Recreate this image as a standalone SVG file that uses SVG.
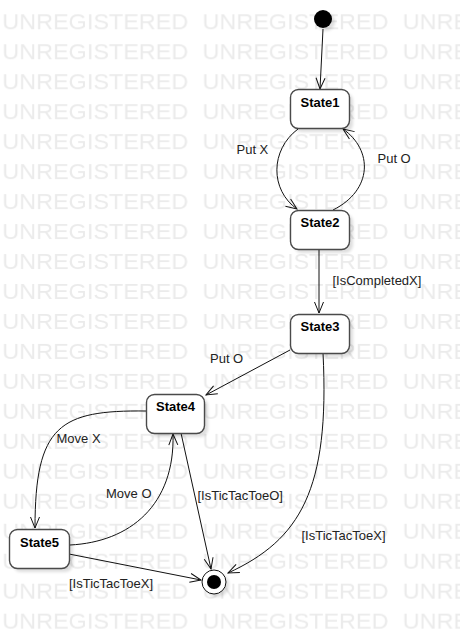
<svg xmlns="http://www.w3.org/2000/svg" width="460" height="635" viewBox="0 0 460 635">
  <style>
    .wm { font-family: "Liberation Sans", Arial, sans-serif; font-size: 22px; fill: #ebebeb; }
    .node rect.box { fill: #ffffff; stroke: #4a4a4a; stroke-width: 1.4; }
    .shadow { fill: #000000; opacity: 0.13; filter: url(#blur); }
    .name { font-family: "Liberation Sans", Arial, sans-serif; font-size: 13px; font-weight: bold; fill: #000; text-anchor: middle; }
    .lbl { font-family: "Liberation Sans", Arial, sans-serif; font-size: 13px; fill: #222; }
    .edge { fill: none; stroke: #111; stroke-width: 1; marker-end: url(#arrow); }
  </style>
  <defs>
    <filter id="blur" x="-20%" y="-20%" width="140%" height="140%">
      <feGaussianBlur stdDeviation="1.5"/>
    </filter>
    <marker id="arrow" markerUnits="userSpaceOnUse" viewBox="-12 -6 13 12" markerWidth="13" markerHeight="12" refX="0" refY="0" orient="auto">
      <path d="M-11,-4.5 L0,0 L-11,4.5" fill="none" stroke="#111" stroke-width="1"/>
    </marker>
    <pattern id="wmp" patternUnits="userSpaceOnUse" x="2.3" y="-0.7" width="200.2" height="29.97">
      <text class="wm" x="0" y="29.97" textLength="186" lengthAdjust="spacingAndGlyphs">UNREGISTERED</text>
    </pattern>
  </defs>

  <rect x="0" y="0" width="460" height="635" fill="#ffffff"/>
  <rect x="0" y="0" width="460" height="635" fill="url(#wmp)"/>

  <g id="connectors">
    <path class="edge" d="M323,29 L320,89"/>
    <path class="edge" d="M298,129 C270,150 270,190 297,209"/>
    <path class="edge" d="M333,210 C373,190 373,150 343,129"/>
    <path class="edge" d="M319,249 L319,313"/>
    <path class="edge" d="M290,350 L206,395"/>
    <path class="edge" d="M323,353 C330,490 300,540 228,573"/>
    <path class="edge" d="M146,411 C60,410 35,425 35,528"/>
    <path class="edge" d="M70,545 C130,542 175,505 173,434"/>
    <path class="edge" d="M181,433 L211,569"/>
    <path class="edge" d="M69,554 L201,580"/>
    <text class="lbl" x="236.5" y="154">Put X</text>
    <text class="lbl" x="377.5" y="163">Put O</text>
    <text class="lbl" x="332.5" y="285">[IsCompletedX]</text>
    <text class="lbl" x="210" y="363">Put O</text>
    <text class="lbl" x="56.5" y="443">Move X</text>
    <text class="lbl" x="106" y="498">Move O</text>
    <text class="lbl" x="197.5" y="500">[IsTicTacToeO]</text>
    <text class="lbl" x="301.5" y="540">[IsTicTacToeX]</text>
    <text class="lbl" x="69" y="588">[IsTicTacToeX]</text>
  </g>

  <g id="initial">
    <circle class="shadow" cx="326" cy="22" r="9"/>
    <circle cx="323" cy="19" r="9" fill="#000"/>
  </g>

  <g id="State1" class="node">
    <rect class="shadow" x="294" y="93" width="59" height="39" rx="8"/>
    <rect class="box" x="290.5" y="89.5" width="59" height="39" rx="8"/>
    <text class="name" x="320" y="107">State1</text>
  </g>

  <g id="State2" class="node">
    <rect class="shadow" x="294" y="214" width="59" height="39" rx="8"/>
    <rect class="box" x="290.5" y="210.5" width="59" height="39" rx="8"/>
    <text class="name" x="320" y="227">State2</text>
  </g>

  <g id="State3" class="node">
    <rect class="shadow" x="294" y="318" width="59" height="39" rx="8"/>
    <rect class="box" x="290.5" y="314.5" width="59" height="39" rx="8"/>
    <text class="name" x="320" y="331">State3</text>
  </g>

  <g id="State4" class="node">
    <rect class="shadow" x="150" y="398" width="58" height="39" rx="8"/>
    <rect class="box" x="146.5" y="394.5" width="58" height="39" rx="8"/>
    <text class="name" x="175.5" y="411">State4</text>
  </g>

  <g id="State5" class="node">
    <rect class="shadow" x="13" y="533" width="60" height="39" rx="8"/>
    <rect class="box" x="9.5" y="529.5" width="60" height="39" rx="8"/>
    <text class="name" x="39.5" y="547">State5</text>
  </g>

  <g id="final">
    <circle class="shadow" cx="217" cy="585" r="12"/>
    <circle cx="214" cy="582" r="12" fill="#fff" stroke="#111" stroke-width="1"/>
    <circle cx="214" cy="582" r="7" fill="#000"/>
  </g>
</svg>
